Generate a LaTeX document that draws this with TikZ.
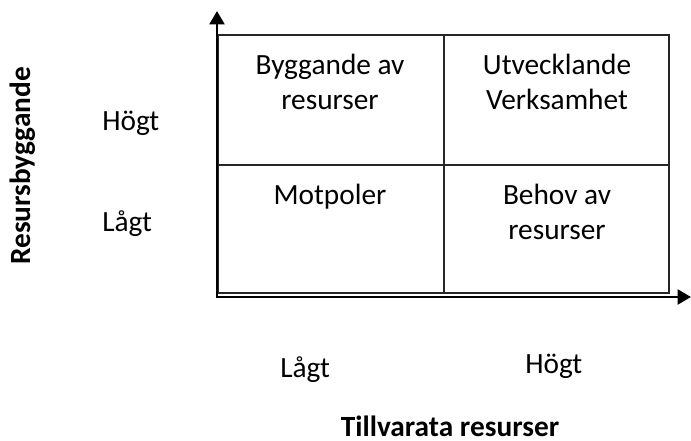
\documentclass[tikz,border=0pt]{standalone}
\usepackage{fontspec}
\setmainfont{Carlito}
\usetikzlibrary{arrows.meta}
\begin{document}
\begin{tikzpicture}[x=0.75pt,y=-0.75pt,
  lbl/.style={font=\fontsize{22}{26.25}\selectfont, inner sep=0pt, align=center},
  boldlbl/.style={lbl, font=\fontsize{22}{26.25}\selectfont\bfseries},
  gridline/.style={draw=black!85, line width=0.9pt},
  axis/.style={draw=black, line width=2.2pt, -{Triangle[length=10pt,width=11pt]}}]
\useasboundingbox (0,0) rectangle (691,441);
% grid
\draw[gridline] (218,35) rectangle (669,293);
\draw[gridline] (218,165) -- (669,165);
\draw[gridline, line width=1.4pt] (444,35) -- (444,293);
% axes
\coordinate (o) at (217,297);
\coordinate (xo) at (215.9,297);
\coordinate (ytip) at (217,11);
\coordinate (xtip) at (691,297);
\draw[axis] (o) -- (ytip);
\draw[axis] (xo) -- (xtip);
% cell texts
\node[lbl, anchor=base] (c1) at (330,110) {Byggande av\\resurser};
\node[lbl, anchor=base] (c2) at (557,110) {Utvecklande\\Verksamhet};
\node[lbl, anchor=base] (c3) at (330,205) {Motpoler};
\node[lbl, anchor=base] (c4) at (557,240) {Behov av\\resurser};
% axis labels
\node[lbl, anchor=base west] (yh) at (102,131) {Högt};
\node[lbl, anchor=base west] (yl) at (102,232) {Lågt};
\node[boldlbl, anchor=base, rotate=90] (yt) at (30,166) {Resursbyggande};
\node[lbl, anchor=base west] (xl) at (280,377) {Lågt};
\node[lbl, anchor=base west] (xh) at (525,373) {Högt};
\node[boldlbl, anchor=base, text depth=0pt] (xt) at (450,436) {Tillvarata resurser};
\end{tikzpicture}
\end{document}
